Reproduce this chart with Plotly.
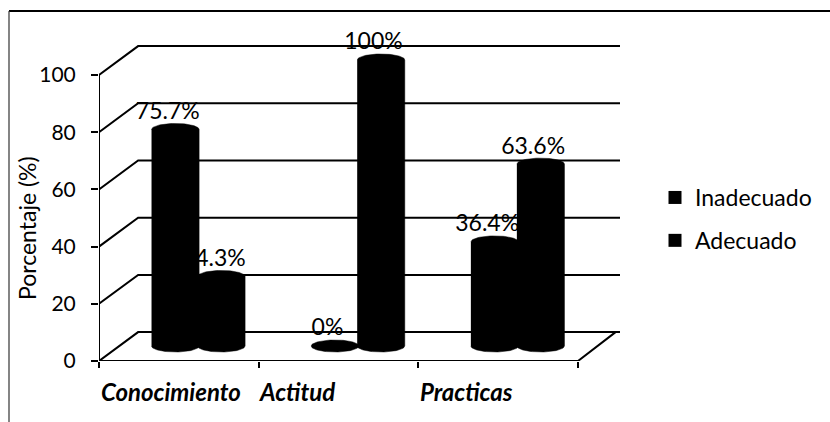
import numpy as np
import plotly.graph_objects as go

# Survey results by dimension
categories = ["Conocimiento", "Actitud", "Practicas"]
inadecuado = [75.7, 0, 36.4]
adecuado = [24.3, 100, 63.6]
y_ticks = [0, 20, 40, 60, 80, 100]
value_text_inadecuado = ["75.7%", "0%", "36.4%"]
value_text_adecuado = ["24.3%", "100%", "63.6%"]

# Pseudo-3D geometry, in axis units
DEPTH_X, DEPTH_Y = 0.245, 10.1
WALL_END = 3.263
CYL_BASE = 5.25
CYL_RX, CYL_RY = 0.149, 2.1
CYL_SHIFT = 0.144
GROUP_CENTER = 0.622
LABEL_DX, LABEL_DY = -0.047, 5.7

# Plot frame, in pixels
W, H = 830, 422
L, T, PW, PH = 99, 25, 527, 336
X_RANGE = [0, PW / 159.67]
Y_RANGE = [0, PH / 2.86]

fig = go.Figure()


def line(xs, ys, width=2):
    fig.add_trace(go.Scatter(x=xs, y=ys, mode="lines", showlegend=False, hoverinfo="skip",
                             cliponaxis=False, line=dict(color="black", width=width)))


def cylinder(center, value):
    t = np.linspace(0, np.pi, 40)
    xs = np.r_[center - CYL_RX * np.cos(t), center + CYL_RX * np.cos(t)]
    ys = np.r_[CYL_BASE - CYL_RY * np.sin(t), CYL_BASE + value + CYL_RY * np.sin(t)]
    fig.add_trace(go.Scatter(x=xs, y=ys, mode="lines", fill="toself", fillcolor="black",
                             line=dict(color="black", width=0.5), showlegend=False,
                             cliponaxis=False, hoverinfo="skip"))


# Walls and floor
for v in y_ticks:
    line([0, DEPTH_X, WALL_END], [v, v + DEPTH_Y, v + DEPTH_Y])
line([0, 3, 3 + DEPTH_X * 0.96], [0, 0, DEPTH_Y])
line([0, 0], [0, 100])

# Value labels sit behind the cylinders
centers = [i + GROUP_CENTER for i in range(len(categories))]
for series, texts, shift in ((inadecuado, value_text_inadecuado, -CYL_SHIFT),
                             (adecuado, value_text_adecuado, CYL_SHIFT)):
    fig.add_trace(go.Scatter(
        x=[c + shift + LABEL_DX for c in centers],
        y=[CYL_BASE + v + LABEL_DY for v in series],
        mode="text", text=texts, textposition="middle center", cliponaxis=False,
        textfont=dict(family="Lato", size=23, color="black"),
        showlegend=False, hoverinfo="skip"))

for series, shift in ((inadecuado, -CYL_SHIFT), (adecuado, CYL_SHIFT)):
    for c, v in zip(centers, series):
        cylinder(c + shift, v)

# Legend entries
for i, name in enumerate(["Inadecuado", "Adecuado"]):
    fig.add_trace(go.Scatter(x=[None], y=[None], mode="markers", name=name, legendgroup=name,
                             marker=dict(symbol="square", size=13, color="black")))

# Category labels sit slightly left of the cylinder groups
label_x = [0.45, 1.24, 2.30]
annotations = [dict(x=x, y=-31 / PH, xref="x", yref="paper", text=c, showarrow=False,
                    xanchor="center", yanchor="middle",
                    font=dict(family="Lato", size=24, color="black", weight="bold", style="italic"))
               for x, c in zip(label_x, categories)]
annotations.append(dict(x=(27 - L) / PW, y=(T + PH - 228) / PH, xref="paper", yref="paper",
                        text="Porcentaje (%)", textangle=-90, showarrow=False,
                        xanchor="center", yanchor="middle",
                        font=dict(family="Lato", size=23, color="black")))

# Outer chart frame
shapes = [
    dict(type="line", xref="paper", yref="paper", x0=(9 - L) / PW, x1=(W - L) / PW,
         y0=(T + PH - 11) / PH, y1=(T + PH - 11) / PH, line=dict(color="black", width=2)),
    dict(type="line", xref="paper", yref="paper", x0=(9 - L) / PW, x1=(9 - L) / PW,
         y0=(T + PH - 11) / PH, y1=(T + PH - H) / PH, line=dict(color="#333333", width=1.2)),
]

fig.update_layout(
    width=W, height=H, margin=dict(l=L, r=W - L - PW, t=T, b=H - T - PH),
    paper_bgcolor="white", plot_bgcolor="white",
    xaxis=dict(range=X_RANGE, tickvals=[0, 1, 2, 3], ticktext=["", "", "", ""], ticks="outside",
               ticklen=6, tickwidth=2, tickcolor="black", showgrid=False, zeroline=False,
               showline=False),
    yaxis=dict(range=Y_RANGE, tickvals=y_ticks, ticks="outside", ticklen=7, tickwidth=2,
               tickcolor="black", showgrid=False, zeroline=False, showline=False,
               ticklabelstandoff=11, tickfont=dict(family="Lato", size=21, color="black")),
    legend=dict(x=(655 - L) / PW, y=(T + PH - 176) / PH, xanchor="left", yanchor="top",
                tracegroupgap=10, font=dict(family="Lato", size=23, color="black"),
                bgcolor="rgba(0,0,0,0)"),
    annotations=annotations, shapes=shapes,
)

fig.write_html("out.html", config=dict(displayModeBar=False))
